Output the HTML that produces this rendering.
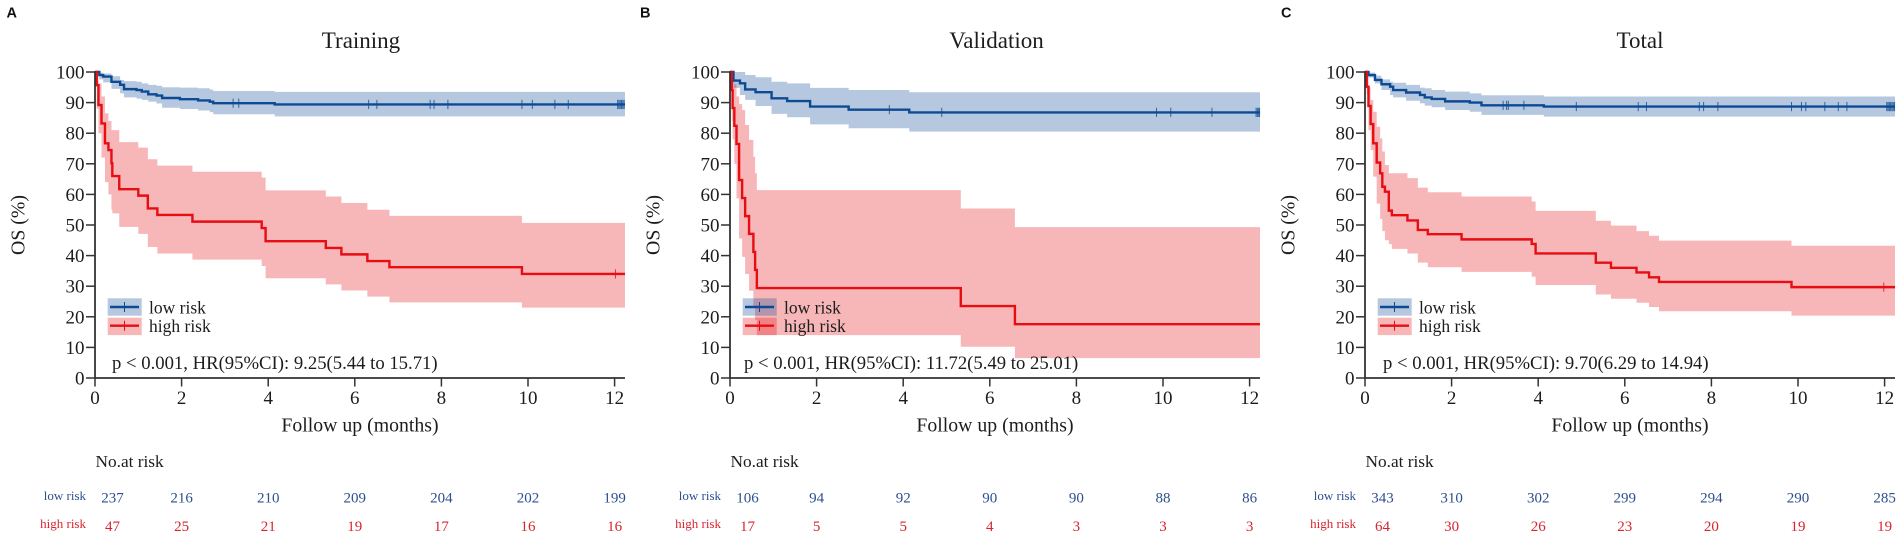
<!DOCTYPE html>
<html lang="en">
<head>
<meta charset="utf-8">
<title>Kaplan-Meier OS curves: Training, Validation, Total</title>
<style>
html,body{margin:0;padding:0;background:#fff;width:1902px;height:537px;overflow:hidden}
svg{display:block}
text{font-family:"Liberation Serif","Times New Roman",serif;fill:#1c1c1c}
.letter{font-family:"Liberation Sans",Arial,sans-serif;font-weight:700;font-size:14.5px;fill:#111}
</style>
</head>
<body>
<svg id="figure" xmlns="http://www.w3.org/2000/svg" width="1902" height="537" viewBox="0 0 1902 537"></svg>
<script>
// Shared axis values
const xTickLabels = [0, 2, 4, 6, 8, 10, 12];
const yTickLabels = [0, 10, 20, 30, 40, 50, 60, 70, 80, 90, 100];
const riskMonths = [0, 2, 4, 6, 8, 10, 12];

// Panel A: Training
const trainLowTimes = [0, .1, .19, .38, .58, .67, .96, 1.08, 1.23, 1.42, 1.55, 1.96, 2.38, 2.65, 2.73, 4.15];
const trainLowSurv = [100, 99, 98.5, 96.8, 95.8, 94.4, 94.1, 93.6, 92.7, 92.3, 91.5, 91.1, 90.7, 90.3, 89.8, 89.4];
const trainLowUpper = [100, 99.8, 99.5, 98.6, 97.4, 97, 96.8, 96.3, 95.8, 95.5, 95, 94.9, 94.7, 94.3, 93.8, 93.5];
const trainLowLower = [100, 97.6, 96.6, 94.5, 93, 91.7, 91.3, 90.9, 90.3, 89.7, 88.3, 87.9, 87.4, 86.9, 86.2, 85.5];
const trainLowCensor = [3.19, 3.32, 6.32, 6.51, 7.74, 7.83, 8.15, 9.86, 10.1, 10.62, 10.93, 12.07, 12.1, 12.13, 12.16, 12.19, 12.22];
const trainHighTimes = [0, .04, .08, .15, .23, .31, .38, .4, .56, 1, 1.22, 1.44, 2.25, 3.85, 3.94, 5.33, 5.69, 6.29, 6.8, 9.86];
const trainHighSurv = [100, 95.7, 89.2, 83.2, 76.7, 74.5, 70.2, 66, 61.7, 59.6, 55.4, 53.3, 51.1, 49, 44.7, 42.5, 40.4, 38.2, 36.2, 34];
const trainHighUpper = [100, 100, 96.3, 92, 86.5, 84, 81, 81, 77.1, 75.3, 71.5, 69.4, 67.4, 65.5, 61.3, 59.3, 57.2, 55, 53, 50.7];
const trainHighLower = [100, 88, 80, 72, 64, 60, 55, 53.8, 49.4, 47.1, 42.8, 40.7, 38.7, 36.6, 32.6, 30.6, 28.6, 26.6, 24.7, 23];
const trainHighCensor = [12.02];
const trainRiskLow = [237, 216, 210, 209, 204, 202, 199];
const trainRiskHigh = [47, 25, 21, 19, 17, 16, 16];

// Panel B: Validation
const validLowTimes = [0, .08, .23, .35, .59, .96, 1.32, 1.85, 2.74, 4.14];
const validLowSurv = [100, 97.2, 96.3, 94.3, 93.4, 91.4, 90.5, 88.7, 87.7, 86.8];
const validLowUpper = [100, 100, 100, 99, 98.3, 96.8, 96.3, 94.8, 94.1, 93.4];
const validLowLower = [100, 94.8, 92.5, 90.9, 88.9, 86.3, 85.2, 82.9, 81.6, 80.5];
const validLowCensor = [3.68, 4.89, 9.85, 10.18, 11.13, 12.15, 12.18, 12.21, 12.23];
const validHighTimes = [0, .04, .06, .1, .15, .21, .28, .35, .44, .54, .58, .62, 5.33, 6.58];
const validHighSurv = [100, 94.1, 88.2, 82.4, 76.5, 64.7, 58.8, 52.9, 47.1, 41.2, 35.3, 29.4, 23.5, 17.6];
const validHighUpper = [100, 100, 98, 96, 92, 89.5, 87.6, 82.7, 77.8, 72.3, 66.9, 61.4, 55.4, 49.3];
const validHighLower = [100, 84, 78, 70, 58.7, 45.6, 39.6, 34, 28.5, 23, 19, 14, 10.2, 6.5];
const validHighCensor = [];
const validRiskLow = [106, 94, 92, 90, 90, 88, 86];
const validRiskHigh = [17, 5, 5, 4, 3, 3, 3];

// Panel C: Total
const totalLowTimes = [0, .08, .23, .38, .58, .65, .95, 1.27, 1.38, 1.54, 1.85, 2.42, 2.69, 4.13];
const totalLowSurv = [100, 99, 97.4, 96, 95.2, 94.1, 93.3, 92.5, 91.7, 91.2, 90.4, 90, 89.1, 88.7];
const totalLowUpper = [100, 99.8, 98.8, 97.6, 96.8, 96.5, 95.8, 94.9, 94.7, 94.1, 93.6, 93, 92.4, 92];
const totalLowLower = [100, 98.2, 96.3, 94.1, 92.5, 91.7, 90.6, 89.8, 89, 88.5, 87.6, 87, 86, 85.4];
const totalLowCensor = [3.19, 3.27, 3.31, 3.67, 4.88, 6.31, 6.5, 7.72, 7.82, 8.15, 9.85, 10.08, 10.18, 10.62, 10.93, 11.13, 12.05, 12.08, 12.11, 12.14, 12.17, 12.2, 12.23];
const totalHighTimes = [0, .04, .08, .13, .19, .27, .35, .4, .46, .55, .62, .98, 1.22, 1.45, 2.23, 3.85, 3.94, 5.33, 5.68, 6.27, 6.56, 6.79, 9.85];
const totalHighSurv = [100, 95.2, 88.9, 83, 76.7, 70.4, 66.9, 62.5, 60.9, 54.7, 53.2, 51.5, 48.4, 47, 45.3, 43.8, 40.7, 37.7, 36, 34.5, 32.9, 31.4, 29.7];
const totalHighUpper = [100, 100, 95, 90.9, 87, 82.1, 78.3, 74, 69.6, 66.9, 66.9, 65.3, 62.2, 60.7, 59.3, 57.7, 54.6, 51.4, 49.8, 48, 46.5, 44.9, 43.2];
const totalHighLower = [100, 92.5, 81, 74.5, 65.8, 57, 52, 48, 45, 43.8, 42.2, 40.7, 37.7, 36.2, 34.7, 33.1, 30.4, 27.3, 25.9, 24.6, 23.2, 21.8, 20.4];
const totalHighCensor = [11.98];
const totalRiskLow = [343, 310, 302, 299, 294, 290, 285];
const totalRiskHigh = [64, 30, 26, 23, 20, 19, 19];

const NS = 'http://www.w3.org/2000/svg';
const figure = document.getElementById('figure');
const Y0 = 378, Y_PER_UNIT = 3.06, X_PER_MONTH = 43.3, MAX_MONTH = 12.24;
const BLUE = '#0d4a94', RED = '#e60d13', BLUE_TXT = '#2d4f8e', RED_TXT = '#d9232e';
const AXIS = '#333333';

function node(tag, attrs, parent, text) {
  const el = document.createElementNS(NS, tag);
  for (const k in attrs) el.setAttribute(k, attrs[k]);
  if (text !== undefined) el.textContent = text;
  parent.appendChild(el);
  return el;
}
function yScale(v) { return Y0 - v * Y_PER_UNIT; }

function stepLinePath(xs, ts, vs) {
  let d = 'M' + xs(ts[0]) + ' ' + yScale(vs[0]);
  for (let i = 1; i < ts.length; i++) {
    d += 'H' + xs(ts[i]) + 'V' + yScale(vs[i]);
  }
  return d + 'H' + xs(MAX_MONTH);
}
function bandPath(xs, ts, up, lo) {
  let d = 'M' + xs(ts[0]) + ' ' + yScale(up[0]);
  for (let i = 1; i < ts.length; i++) {
    d += 'H' + xs(ts[i]) + 'V' + yScale(up[i]);
  }
  d += 'H' + xs(MAX_MONTH) + 'V' + yScale(lo[lo.length - 1]);
  for (let i = ts.length - 1; i > 0; i--) {
    d += 'H' + xs(ts[i]) + 'V' + yScale(lo[i - 1]);
  }
  return d + 'H' + xs(ts[0]) + 'Z';
}

function drawSeries(g, xs, s) {
  const band = node('path', { d: bandPath(xs, s.times, s.upper, s.lower), fill: s.color, 'fill-opacity': .3 }, g);
  
  
}
function drawCurve(g, xs, s) {
  const line = node('path', { d: stepLinePath(xs, s.times, s.surv), fill: 'none', stroke: s.color, 'stroke-width': 2.4 }, g);
  
  
  const lastAt = (t) => {
    let v = s.surv[0];
    for (let i = 0; i < s.times.length; i++) if (s.times[i] <= t) v = s.surv[i];
    return v;
  };
  s.censor.forEach((t) => {
    const y = yScale(lastAt(t));
    const tick = node('line', { x1: xs(t), x2: xs(t), y1: y - 4.6, y2: y + 4.6, stroke: s.color, 'stroke-width': 1, 'stroke-opacity': .8 }, g);
    
    
  });
}

function drawPanel(p) {
  const g = node('g', {}, figure);
  
  
  const x0 = p.x0;
  const xs = (t) => x0 + t * X_PER_MONTH;

  const letter = node('text', { x: p.letterX, y: 17.5, class: 'letter' }, g, p.letter);
  
  

  const title = node('text', { x: p.titleX, y: 48, 'text-anchor': 'middle', 'font-size': 23 }, g, p.title);
  
  

  drawSeries(g, xs, p.low);
  drawSeries(g, xs, p.high);

  // Legend swatches sit on top of the bands, semi-transparent
  [[p.low, 298.3, 307, 313.3], [p.high, 317.7, 325.7, 332]].forEach((row) => {
    const s = row[0];
    const box = node('rect', { x: x0 + 12.7, y: row[1], width: 34, height: 17.4, fill: s.color, 'fill-opacity': .3 }, g);
    
    
  });

  drawCurve(g, xs, p.low);
  drawCurve(g, xs, p.high);

  [[p.low, 298.3, 307, 313.3], [p.high, 317.7, 325.7, 332]].forEach((row) => {
    const s = row[0];
    const ln = node('line', { x1: x0 + 15, x2: x0 + 44, y1: row[2], y2: row[2], stroke: s.color, 'stroke-width': 2.4 }, g);
    
    
    const tk = node('line', { x1: x0 + 29.5, x2: x0 + 29.5, y1: row[2] - 5, y2: row[2] + 5, stroke: s.color, 'stroke-width': 1 }, g);
    
    
    const lb = node('text', { x: x0 + 54, y: row[3], 'font-size': 17.5 }, g, s.label);
    
    
  });

  // Axes
  const yAxis = node('line', { x1: x0, x2: x0, y1: yScale(100) - .9, y2: Y0 + .9, stroke: AXIS, 'stroke-width': 1.8 }, g);
  
  
  const xAxis = node('line', { x1: x0, x2: xs(MAX_MONTH), y1: Y0, y2: Y0, stroke: AXIS, 'stroke-width': 1.8 }, g);
  
  

  yTickLabels.forEach((v) => {
    const y = yScale(v);
    const t = node('line', { x1: x0 - 9, x2: x0, y1: y, y2: y, stroke: AXIS, 'stroke-width': 1.5 }, g);
    
    
    const l = node('text', { x: x0 - 10.5, y: y + 6.5, 'text-anchor': 'end', 'font-size': 19 }, g, String(v));
    
    
  });
  xTickLabels.forEach((v) => {
    const x = xs(v);
    const t = node('line', { x1: x, x2: x, y1: Y0, y2: Y0 + 8.5, stroke: AXIS, 'stroke-width': 1.5 }, g);
    
    
    const l = node('text', { x: x, y: 404, 'text-anchor': 'middle', 'font-size': 19 }, g, String(v));
    
    
  });

  const yTitle = node('text', { transform: 'translate(' + (x0 - 70.5) + ' 225) rotate(-90)', 'text-anchor': 'middle', 'font-size': 19.8 }, g, 'OS (%)');
  
  
  const xTitle = node('text', { x: x0 + 265, y: 431.5, 'text-anchor': 'middle', 'font-size': 19.8 }, g, 'Follow up (months)');
  
  

  const stat = node('text', { x: p.statX, y: 369, 'font-size': 18.7 }, g, p.stat);
  
  

  // Risk table
  const riskTitle = node('text', { x: x0 + .5, y: 467, 'font-size': 17.3 }, g, 'No.at risk');
  
  
  [[p.low, 500, 502.5, BLUE_TXT], [p.high, 528, 531, RED_TXT]].forEach((row) => {
    const s = row[0];
    const rl = node('text', { x: x0 - 9, y: row[1], 'text-anchor': 'end', 'font-size': 13, style: 'fill:' + row[3] }, g, s.label);
    
    
    riskMonths.forEach((m, i) => {
      const cx = m === 0 ? x0 + 17.5 : xs(m);
      const n = node('text', { x: cx, y: row[2], 'text-anchor': 'middle', 'font-size': 15, style: 'fill:' + row[3] }, g, String(s.risk[i]));
      
      
    });
  });
}

function series(key, label, color, times, surv, upper, lower, censor, risk) {
  return { key, label, color, times, surv, upper, lower, censor, risk };
}

drawPanel({
  letter: 'A', letterX: 6.5, title: 'Training', titleX: 361, x0: 95, statX: 112,
  stat: 'p < 0.001, HR(95%CI): 9.25(5.44 to 15.71)',
  low: series('low-risk', 'low risk', BLUE, trainLowTimes, trainLowSurv, trainLowUpper, trainLowLower, trainLowCensor, trainRiskLow),
  high: series('high-risk', 'high risk', RED, trainHighTimes, trainHighSurv, trainHighUpper, trainHighLower, trainHighCensor, trainRiskHigh)
});
drawPanel({
  letter: 'B', letterX: 640, title: 'Validation', titleX: 996.5, x0: 730, statX: 744,
  stat: 'p < 0.001, HR(95%CI): 11.72(5.49 to 25.01)',
  low: series('low-risk', 'low risk', BLUE, validLowTimes, validLowSurv, validLowUpper, validLowLower, validLowCensor, validRiskLow),
  high: series('high-risk', 'high risk', RED, validHighTimes, validHighSurv, validHighUpper, validHighLower, validHighCensor, validRiskHigh)
});
drawPanel({
  letter: 'C', letterX: 1281, title: 'Total', titleX: 1640, x0: 1365, statX: 1383,
  stat: 'p < 0.001, HR(95%CI): 9.70(6.29 to 14.94)',
  low: series('low-risk', 'low risk', BLUE, totalLowTimes, totalLowSurv, totalLowUpper, totalLowLower, totalLowCensor, totalRiskLow),
  high: series('high-risk', 'high risk', RED, totalHighTimes, totalHighSurv, totalHighUpper, totalHighLower, totalHighCensor, totalRiskHigh)
});
</script>
</body>
</html>
